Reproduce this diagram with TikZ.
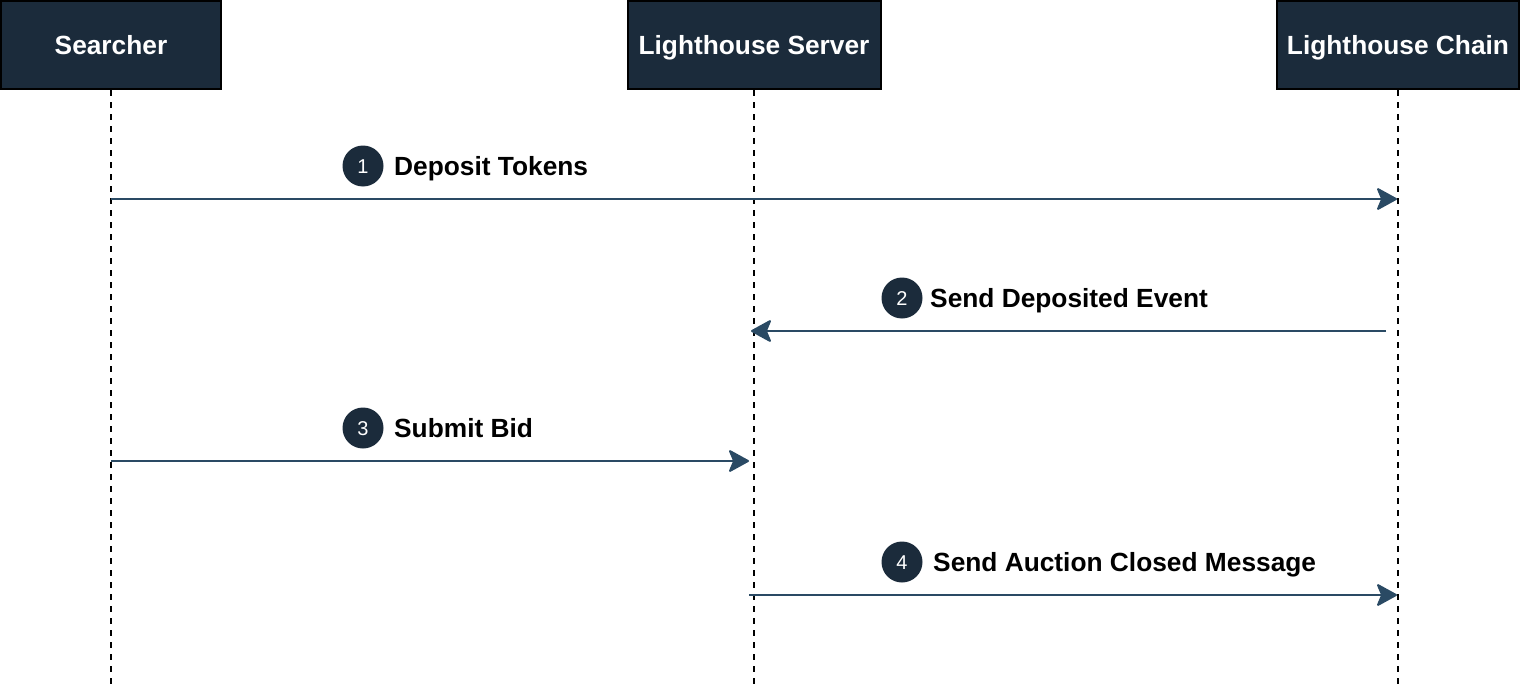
\documentclass[tikz,border=0pt]{standalone}
\usepackage{fontspec}
\setmainfont{Liberation Sans}
\usetikzlibrary{arrows.meta}
\definecolor{boxfill}{HTML}{1B2B3B}
\definecolor{arrowcol}{HTML}{2A4A64}
\tikzset{
  actor/.style={draw=black, line width=2pt, fill=boxfill, text=white, minimum height=88pt, inner sep=0pt,
    text height=20pt, text depth=1.4pt, font=\fontsize{26.3}{30}\selectfont\bfseries},
  lifeline/.style={draw=black, line width=2pt, dash pattern=on 6pt off 6pt},
  msg/.style={draw=arrowcol, line width=2pt, -{Stealth[length=22pt,width=24pt,inset=5pt,round=false]}},
  stepnum/.style={circle, fill=boxfill, text=white, minimum size=41pt, inner sep=0pt,
    text height=14.3pt, text depth=0pt, font=\fontsize{20}{24}\selectfont},
  msglabel/.style={anchor=west, inner sep=0pt, text height=20pt, text depth=1.4pt,
    font=\fontsize{26.3}{30}\selectfont\bfseries}
}
\begin{document}
\begin{tikzpicture}[x=1pt,y=-1pt]
\useasboundingbox (0,0) rectangle (1521,685);
\node[actor, minimum width=220pt] (s) at (111,45) {Searcher};
\node[actor, minimum width=253pt] (ls) at (754,45) {Lighthouse Server};
\node[actor, minimum width=242pt] (lc) at (1398,45) {Lighthouse Chain};
\coordinate (sEnd) at (111,685);
\coordinate (lsEnd) at (754,685);
\coordinate (lcEnd) at (1398,685);
\draw[lifeline] (s.south) -- (sEnd);
\draw[lifeline] (ls.south) -- (lsEnd);
\draw[lifeline] (lc.south) -- (lcEnd);
% message endpoints
\coordinate (a1s) at (111,199);  \coordinate (a1e) at (1397,199);
\coordinate (a2s) at (1386,331); \coordinate (a2e) at (751,331);
\coordinate (a3s) at (111,461);  \coordinate (a3e) at (749,461);
\coordinate (a4s) at (749,595);  \coordinate (a4e) at (1397,595);
\draw[msg] (a1s) -- (a1e);
\draw[msg] (a2s) -- (a2e);
\draw[msg] (a3s) -- (a3e);
\draw[msg] (a4s) -- (a4e);
% step numbers and labels
\node[stepnum] (n1) at (363,166) {1};
\node[msglabel] (l1) at (394,166) {Deposit Tokens};
\node[stepnum] (n2) at (902,298) {2};
\node[msglabel] (l2) at (930,298) {Send Deposited Event};
\node[stepnum] (n3) at (363,428) {3};
\node[msglabel] (l3) at (394,428) {Submit Bid};
\node[stepnum] (n4) at (902,562) {4};
\node[msglabel] (l4) at (933,562) {Send Auction Closed Message};
\end{tikzpicture}
\end{document}
